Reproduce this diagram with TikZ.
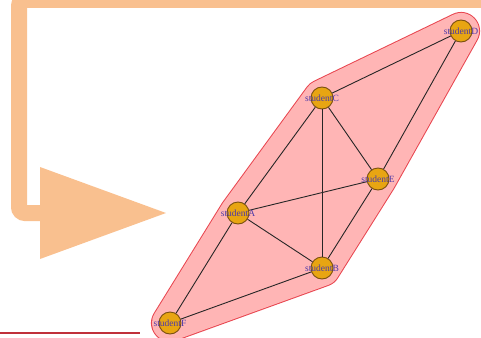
\documentclass[tikz,border=0pt]{standalone}
\usepackage{fontspec}
\newfontfamily\lblfont{Liberation Serif}
\usetikzlibrary{calc}
\definecolor{peach}{HTML}{F9C08F}
\definecolor{hullpink}{HTML}{FFB5B5}
\definecolor{hullred}{HTML}{E8454F}
\definecolor{nodegold}{HTML}{E8A512}
\definecolor{nodeedge}{HTML}{7A5010}
\definecolor{labelblue}{HTML}{4E3AA8}
\definecolor{redline}{HTML}{C0303A}
\tikzset{
  stu/.style={circle,draw=nodeedge,fill=nodegold,line width=0.9pt,minimum size=22pt,inner sep=0pt},
  lbl/.style={text=labelblue,font=\lblfont\fontsize{9.5}{9.5}\selectfont,inner sep=0pt},
  link/.style={draw=black!85,line width=0.9pt},
}
\begin{document}
\begin{tikzpicture}[x=1pt,y=-1pt]
\useasboundingbox (0,0) rectangle (481,337);
\clip (0,0) rectangle (481,337);
% orange connector
\coordinate (ostart) at (490,0);
\coordinate (obend) at (19,0);
\coordinate (ocorner) at (19,213);
\coordinate (oend) at (42,213);
\draw[peach,line width=16pt,rounded corners=6pt] (ostart) -- (obend) -- (ocorner) -- (oend);
\coordinate (tipA) at (40,167);
\coordinate (tipB) at (40,259);
\coordinate (tipC) at (166,213);
\fill[peach] (tipA) -- (tipC) -- (tipB) -- cycle;
% bottom red line
\coordinate (bl1) at (0,333);
\coordinate (bl2) at (140,333);
\draw[draw=redline,line width=2pt] (bl1) -- (bl2);
% node positions
\coordinate (pD) at (461,31);
\coordinate (pC) at (322,98);
\coordinate (pE) at (378,179);
\coordinate (pA) at (238,213);
\coordinate (pB) at (322,268);
\coordinate (pF) at (170,323);
% hull
\draw[hullred,line width=38pt,line join=round] (pD) -- (pC) -- (pA) -- (pF) -- (pB) -- (pE) -- cycle;
\draw[hullpink,line width=36pt,line join=round,fill=hullpink] (pD) -- (pC) -- (pA) -- (pF) -- (pB) -- (pE) -- cycle;
% nodes
\node[stu] (D) at (pD) {};
\node[stu] (C) at (pC) {};
\node[stu] (E) at (pE) {};
\node[stu] (A) at (pA) {};
\node[stu] (B) at (pB) {};
\node[stu] (F) at (pF) {};
% edges
\draw[link] (D) -- (C);
\draw[link] (D) -- (E);
\draw[link] (C) -- (A);
\draw[link] (C) -- (B);
\draw[link] (C) -- (E);
\draw[link] (A) -- (E);
\draw[link] (A) -- (B);
\draw[link] (A) -- (F);
\draw[link] (F) -- (B);
\draw[link] (E) -- (B);
% labels
\node[lbl] (lD) at (pD) {studentD};
\node[lbl] (lC) at (pC) {studentC};
\node[lbl] (lE) at (pE) {studentE};
\node[lbl] (lA) at (pA) {studentA};
\node[lbl] (lB) at (pB) {studentB};
\node[lbl] (lF) at (pF) {studentF};
\end{tikzpicture}
\end{document}
